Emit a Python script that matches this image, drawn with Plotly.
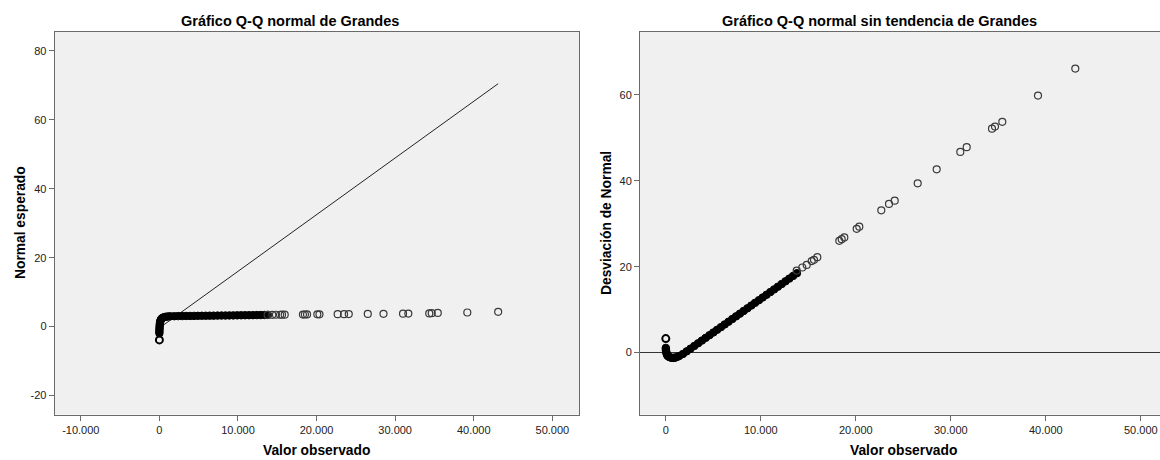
import plotly.graph_objects as go

# ---------------- data ----------------
# dense part of the sample (left: observed value vs expected normal)
left_band_x = [0, 0, 10, 20, 30, 50, 70, 100, 140, 200, 280, 380, 500, 650, 850, 1100,
               1400, 1900, 2400, 2900, 3400, 3900, 4400, 4900, 5400, 5900, 6400, 6900,
               7400, 7900, 8400, 8900, 9400, 9900, 10400, 10900, 11400, 11900, 12400,
               12900, 13400, 13800]
left_band_z = [-1.9, -1.4, -0.9, -0.4, 0.1, 0.6, 1.0, 1.4, 1.75, 2.05, 2.3, 2.5, 2.65, 2.78, 2.88, 2.95,
               3.0, 3.03, 3.05, 3.07, 3.09, 3.1, 3.12, 3.13, 3.15, 3.16, 3.18, 3.19,
               3.2, 3.22, 3.23, 3.25, 3.26, 3.27, 3.29, 3.3, 3.32, 3.33, 3.35,
               3.36, 3.38, 3.4]

# dense part of the sample (right: observed value vs deviation from normal)
right_band_x = [0, 10, 20, 40, 70, 110, 170, 250, 350, 480, 620, 780, 950, 1150, 1400,
                1800, 2200, 2600, 3000, 3400, 3800, 4200, 4600, 5000, 5400, 5800, 6200,
                6600, 7000, 7400, 7800, 8200, 8600, 9000, 9400, 9800, 10200, 10600,
                11000, 11400, 11800, 12200, 12600, 13000, 13400, 13800]
right_band_dev = [1.1, 0.8, 0.5, 0.2, -0.1, -0.4, -0.65, -0.85, -1.0, -1.12, -1.2, -1.22, -1.18, -1.05, -0.8,
                  -0.33, 0.29, 0.92, 1.55, 2.17, 2.8, 3.43, 4.06, 4.68, 5.31, 5.93, 6.56,
                  7.19, 7.82, 8.44, 9.07, 9.7, 10.32, 10.95, 11.58, 12.2, 12.83, 13.46,
                  14.08, 14.71, 15.34, 15.96, 16.59, 17.22, 17.85, 18.47]

# minimum value (isolated circle at the bottom of the hook)
min_x = [0]
min_z = [-3.86]
min_dev = [3.26]

# isolated large observations
outlier_x = [13779, 14368, 14832, 15358, 15600, 15947, 18263, 18516, 18789, 20095, 20368,
             22684, 23495, 24095, 26516, 28516, 31000, 31674, 34337, 34653, 35421, 39179, 43105]
outlier_z = [3.41, 3.42, 3.44, 3.45, 3.47, 3.48, 3.50, 3.52, 3.54, 3.56, 3.58,
             3.60, 3.62, 3.65, 3.68, 3.71, 3.75, 3.79, 3.84, 3.90, 3.98, 4.10, 4.30]
outlier_dev = [19.1, 19.8, 20.4, 21.3, 21.6, 22.2, 26.0, 26.4, 26.8, 28.8, 29.3,
               33.1, 34.6, 35.35, 39.4, 42.65, 46.7, 47.8, 52.1, 52.6, 53.7, 59.8, 66.1]

# reference line of the normal Q-Q plot
ref_x = [0, 43105]
ref_z = [-0.4, 70.5]

# ticks
left_xtick_vals = [-10000, 0, 10000, 20000, 30000, 40000, 50000]
left_xtick_text = ["-10.000", "0", "10.000", "20.000", "30.000", "40.000", "50.000"]
left_ytick_vals = [-20, 0, 20, 40, 60, 80]
left_ytick_text = ["-20", "0", "20", "40", "60", "80"]
right_xtick_vals = [0, 10000, 20000, 30000, 40000, 50000]
right_xtick_text = ["0", "10.000", "20.000", "30.000", "40.000", "50.000"]
right_ytick_vals = [0, 20, 40, 60]
right_ytick_text = ["0", "20", "40", "60"]

# ---------------- figure ----------------
W, H = 1160, 460
FONT = "Liberation Sans, Arial, sans-serif"
FRAME = "#6a6a6a"
BG = "#f0f0f0"
PT = "#3a3a3a"

fig = go.Figure()

dense_marker = dict(symbol="circle", size=7.5, color="black", line=dict(color="black", width=1))
open_marker = dict(symbol="circle-open", size=7, color=PT, line=dict(color=PT, width=1.2))
min_marker = dict(symbol="circle-open", size=7, color="black", line=dict(color="black", width=2))

# left panel
fig.add_trace(go.Scatter(x=ref_x, y=ref_z, mode="lines", line=dict(color="#222", width=1),
                         xaxis="x", yaxis="y", hoverinfo="skip"))
fig.add_trace(go.Scatter(x=left_band_x, y=left_band_z, mode="markers", marker=dense_marker,
                         xaxis="x", yaxis="y"))
fig.add_trace(go.Scatter(x=outlier_x, y=outlier_z, mode="markers", marker=open_marker,
                         xaxis="x", yaxis="y"))
fig.add_trace(go.Scatter(x=min_x, y=min_z, mode="markers", marker=min_marker,
                         xaxis="x", yaxis="y"))

# right panel
fig.add_trace(go.Scatter(x=right_band_x, y=right_band_dev, mode="markers", marker=dense_marker,
                         xaxis="x2", yaxis="y2"))
fig.add_trace(go.Scatter(x=outlier_x, y=outlier_dev, mode="markers", marker=open_marker,
                         xaxis="x2", yaxis="y2"))
fig.add_trace(go.Scatter(x=min_x, y=min_dev, mode="markers", marker=min_marker,
                         xaxis="x2", yaxis="y2"))

top_px, bot_px = 32, 414.5
ydom = [1 - bot_px / H, 1 - top_px / H]

axis_common = dict(showgrid=False, zeroline=False, showline=True, linecolor=FRAME, linewidth=1,
                   ticks="outside", ticklen=5, tickcolor=FRAME, tickwidth=1,
                   tickfont=dict(family=FONT, size=11, color="#222"), tickmode="array")

fig.update_layout(
    width=W, height=H, margin=dict(l=0, r=0, t=0, b=0),
    paper_bgcolor="white", plot_bgcolor=BG, showlegend=False,
    xaxis=dict(axis_common, domain=[54.7 / W, 579 / W], range=[-13320, 53390],
               tickvals=left_xtick_vals, ticktext=left_xtick_text, mirror=True, anchor="y"),
    yaxis=dict(axis_common, domain=ydom, range=[-25.5, 85.5],
               tickvals=left_ytick_vals, ticktext=left_ytick_text, mirror=True, anchor="x"),
    xaxis2=dict(axis_common, domain=[640 / W, 1.0], range=[-2716, 52021],
                tickvals=right_xtick_vals, ticktext=right_xtick_text, mirror=True, anchor="y2"),
    yaxis2=dict(axis_common, domain=ydom, range=[-14.4, 74.6],
                tickvals=right_ytick_vals, ticktext=right_ytick_text, mirror=False, anchor="x2",
                zeroline=True, zerolinecolor="#333", zerolinewidth=1),
)

def ann(text, x_px, y_px, size, angle=0):
    fig.add_annotation(text=text, x=x_px / W, y=1 - y_px / H, xref="paper", yref="paper",
                       xanchor="center", yanchor="middle", showarrow=False, textangle=angle,
                       font=dict(family=FONT, size=size, color="black"))

ann("<b>Gráfico Q-Q normal de Grandes</b>", 290, 20.5, 14.5)
ann("<b>Gráfico Q-Q normal sin tendencia de Grandes</b>", 879, 20.5, 14.5)
ann("<b>Valor observado</b>", 316.6, 450, 13.8)
ann("<b>Valor observado</b>", 903.7, 450, 13.8)
ann("<b>Normal esperado</b>", 20, 223, 13.8, -90)
ann("<b>Desviación de Normal</b>", 606, 223, 13.8, -90)

fig.write_html("out.html")
